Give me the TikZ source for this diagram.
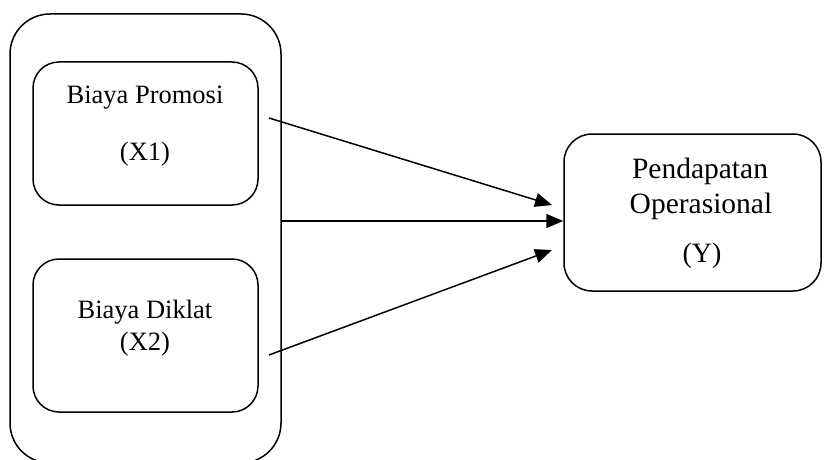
\documentclass[tikz,border=0pt]{standalone}
\usepackage{fontspec}
\setmainfont{Liberation Serif}
\usetikzlibrary{arrows.meta}
\begin{document}
\begin{tikzpicture}[x=1pt,y=-1pt,
  box/.style={draw,line width=1.5pt,inner sep=0pt,rectangle},
  txt/.style={anchor=base,inner sep=0pt,font=\fontsize{26.5}{32}\selectfont},
  bigtxt/.style={anchor=base,inner sep=0pt,font=\fontsize{29.5}{35}\selectfont},
  arr/.style={line width=1.5pt,-{Triangle[length=17pt,width=14pt]}}]
\useasboundingbox (0,0) rectangle (824,460);
\begin{scope}
\clip (0,0) rectangle (824,460);
\node[box,rounded corners=40pt,minimum width=271pt,minimum height=449pt] (outer) at (145.5,238.5) {};
\end{scope}
\node[box,rounded corners=26pt,minimum width=225pt,minimum height=143pt] (b1) at (145.5,133.5) {};
\node[box,rounded corners=26pt,minimum width=225pt,minimum height=153pt] (b2) at (145.5,335.5) {};
\node[box,rounded corners=28pt,minimum width=257pt,minimum height=157pt] (y) at (692.5,212.5) {};
\node[txt] (t1) at (145,103) {Biaya Promosi};
\node[txt] (t2) at (145,160) {(X1)};
\node[txt] (t3) at (145,318) {Biaya Diklat};
\node[txt] (t4) at (145,350) {(X2)};
\node[bigtxt] (t5) at (700,178) {Pendapatan};
\node[bigtxt] (t6) at (701,213) {Operasional};
\node[txt,font=\fontsize{28}{32}\selectfont] (t7) at (702,262) {(Y)};
\coordinate (s1) at (269,118);
\coordinate (e1) at (552,205);
\coordinate (s3) at (269,355);
\coordinate (e3) at (552,250);
\coordinate (s2) at (281,221);
\draw[arr] (s1) -- (e1);
\draw[arr] (s2) -- (y.west |- s2);
\draw[arr] (s3) -- (e3);
\end{tikzpicture}
\end{document}
